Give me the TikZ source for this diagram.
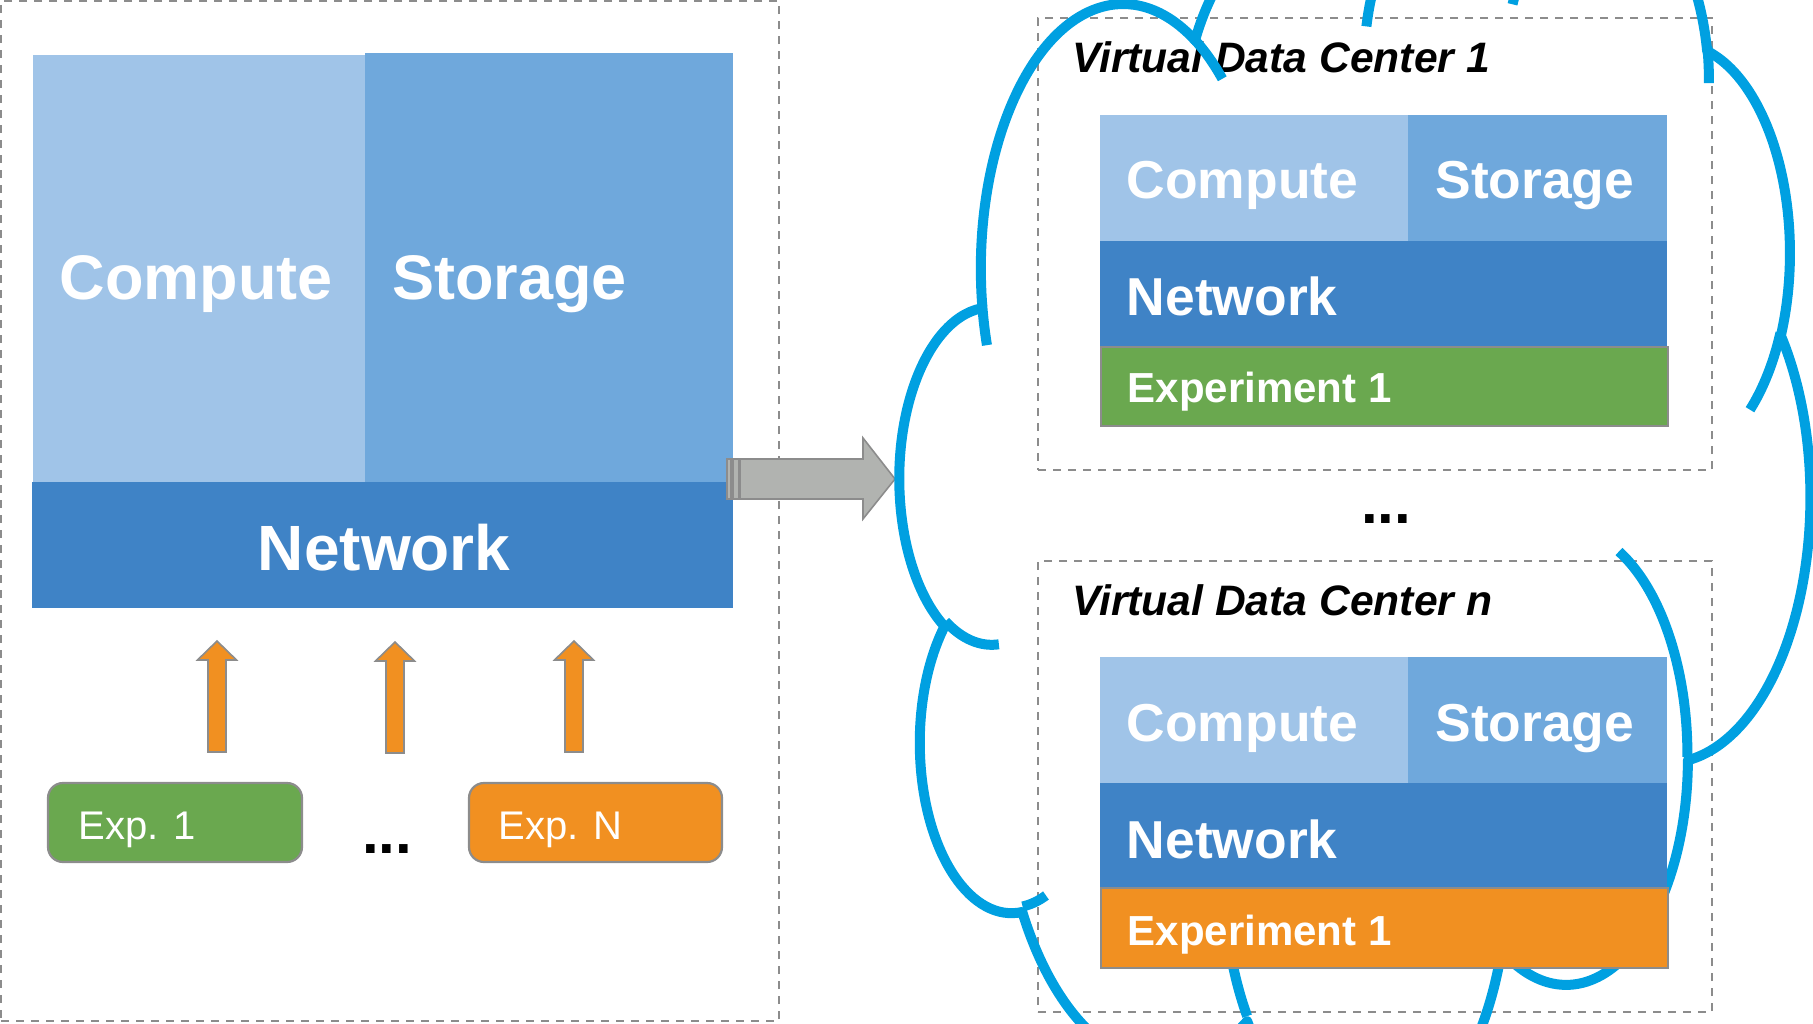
\documentclass[tikz,border=0pt]{standalone}
\usepackage{fontspec}
\setmainfont{Liberation Sans}
\usetikzlibrary{fit}
\definecolor{cmpC}{HTML}{A0C4E8}
\definecolor{stoC}{HTML}{6FA8DC}
\definecolor{netC}{HTML}{3F83C6}
\definecolor{grnC}{HTML}{6AA84F}
\definecolor{orgC}{HTML}{F19021}
\definecolor{cldC}{HTML}{00A0E1}
\definecolor{dshC}{HTML}{8C8C8C}
\definecolor{bdrC}{HTML}{8C8C8C}
\definecolor{gryC}{HTML}{B1B3B0}
\tikzset{
  blk/.style={inner sep=0pt, outer sep=0pt},
  dashbox/.style={blk, draw=dshC, line width=0.9pt, dash pattern=on 4pt off 3.5pt},
  bigw/.style={inner sep=0pt, anchor=base west, text=white, font=\fontsize{31.5}{36}\selectfont\bfseries},
  midw/.style={inner sep=0pt, anchor=base west, text=white, font=\fontsize{26.7}{31}\selectfont\bfseries},
  expw/.style={inner sep=0pt, anchor=base west, text=white, font=\fontsize{21}{25}\selectfont\bfseries},
  smlw/.style={inner sep=0pt, anchor=base west, text=white, font=\fontsize{20}{24}\selectfont},
  ttl/.style={inner sep=0pt, anchor=base west, text=black, font=\fontsize{21.3}{25}\selectfont\bfseries\itshape},
  dotsty/.style={inner sep=0pt, anchor=base, text=black, font=\fontsize{30}{34}\selectfont\bfseries},
  expbox/.style={blk, draw=bdrC, line width=1.1pt, rounded corners=7.5pt},
  cloudline/.style={draw=cldC, line width=5pt, line join=round},
  uparrow/.pic={\draw[fill=orgC, draw=bdrC, line width=0.8pt] (-9,111) -- (-9,19) -- (-19.5,19) -- (0,0) -- (19.5,19) -- (9,19) -- (9,111) -- cycle;}
}
\begin{document}
\begin{tikzpicture}[x=0.5pt,y=-0.5pt]
\useasboundingbox (0,0) rectangle (1813,1023);
% ---------- left panel ----------
\node[dashbox, fit={(1,1)(779,1021)}] (left) {};
\node[blk, fill=cmpC, fit={(33,55)(365,482)}] (LC) {};
\node[blk, fill=stoC, fit={(365,53)(733,482)}] (LS) {};
\node[blk, fill=netC, fit={(32,482)(733,608)}] (LN) {};
\node[bigw] (LCt) at (59.3,299) {Compute};
\node[bigw] (LSt) at (392,299) {Storage};
\node[bigw, font=\fontsize{32}{36}\selectfont\bfseries] (LNt) at (257.5,570) {Network};
\pic at (217,641) {uparrow};
\pic at (395,642) {uparrow};
\pic at (574,641) {uparrow};
\node[expbox, fill=grnC, fit={(48,783)(302,862)}] (E1) {};
\node[expbox, fill=orgC, fit={(469,783)(722,862)}] (EN) {};
\node[smlw] (E1t) at (78,839) {Exp. 1};
\node[smlw] (ENt) at (498,839) {Exp. N};
\node[dotsty] (ldots) at (387,853) {...};
% ---------- right dashed boxes ----------
\node[dashbox, fit={(1038,18)(1712,470)}] (V1) {};
\node[dashbox, fit={(1038,561)(1712,1012)}] (Vn) {};
\node[ttl] (V1t) at (1072,72) {Virtual Data Center 1};
\node[ttl] (Vnt) at (1072,615) {Virtual Data Center n};
% ---------- gray arrow ----------
\draw[fill=gryC, draw=bdrC, line width=0.7pt] (727,459) rectangle (731,499);
\draw[fill=gryC, draw=bdrC, line width=0.7pt] (733,459) rectangle (739,499);
\draw[fill=gryC, draw=bdrC, line width=0.8pt] (740,459) -- (863,459) -- (863,438) -- (895,479) -- (863,519) -- (863,499) -- (740,499) -- cycle;
% ---------- cloud ----------
\begin{scope}
\clip (0,0) rectangle (1813,1023);
\begin{scope}[shift={(900,-109.5)}, x=455pt, y=-622pt]
\draw[cloudline] (0.090278,0.332639)
  arc[start angle=172.255, delta angle=128.115, x radius=0.156319, y radius=0.212731]
  arc[start angle=-152.04, delta angle=106.58, x radius=0.123449, y radius=0.168218]
  arc[start angle=-153.50, delta angle=116.16, x radius=0.101042, y radius=0.137616]
  arc[start angle=-139.70, delta angle=129.49, x radius=0.112431, y radius=0.152662]
  arc[start angle=-74.77, delta angle=97.98, x radius=0.123449, y radius=0.168356]
  arc[start angle=-37.54, delta angle=119.40, x radius=0.156829, y radius=0.213426]
  arc[start angle=0.46, delta angle=121.51, x radius=0.133912, y radius=0.182106]
  arc[start angle=16.84, delta angle=129.38, x radius=0.156296, y radius=0.213310]
  arc[start angle=58.98, delta angle=91.20, x radius=0.178704, y radius=0.244051]
  arc[start angle=83.31, delta angle=139.78, x radius=0.100926, y radius=0.136991]
  arc[start angle=120.36, delta angle=143.75, x radius=0.100579, y radius=0.137616]
  -- cycle;
\draw[cloudline] (0.108634,0.605949) arc[start angle=85.546, delta angle=34.81, x radius=0.100579, y radius=0.137616];
\draw[cloudline] (0.160370,0.807847) arc[start angle=68.24, delta angle=15.07, x radius=0.100926, y radius=0.136991];
\draw[cloudline] (0.381435,0.904861) arc[start angle=146.22, delta angle=12.25, x radius=0.156296, y radius=0.213310];
\draw[cloudline] (0.667292,0.804421) arc[start angle=4.738, delta angle=12.10, x radius=0.156296, y radius=0.213310];
\draw[cloudline] (0.790023,0.531343) arc[start angle=-64.03, delta angle=64.49, x radius=0.133912, y radius=0.182106];
\draw[cloudline] (0.967546,0.355417) arc[start angle=23.21, delta angle=26.44, x radius=0.123449, y radius=0.168356];
\draw[cloudline] (0.887130,0.125602) arc[start angle=-10.21, delta angle=11.03, x radius=0.112431, y radius=0.152662];
\draw[cloudline] (0.673102,0.091481) arc[start angle=-156.29, delta angle=16.59, x radius=0.112431, y radius=0.152662];
\draw[cloudline] (0.512523,0.109259) arc[start angle=-167.72, delta angle=14.22, x radius=0.101042, y radius=0.137616];
\draw[cloudline] (0.324074,0.120185) arc[start angle=-59.63, delta angle=13.89, x radius=0.156319, y radius=0.212731];
\draw[cloudline] (0.095532,0.365486) arc[start angle=163.19, delta angle=9.07, x radius=0.156319, y radius=0.212731];
\end{scope}
\end{scope}
% ---------- VDC 1 ----------
\node[blk, fill=cmpC, fit={(1100,115)(1408,241)}] (C1) {};
\node[blk, fill=stoC, fit={(1408,115)(1667,241)}] (S1) {};
\node[blk, fill=netC, fit={(1100,241)(1667,347)}] (N1) {};
\node[blk, fill=grnC, draw=bdrC, line width=1pt, fit={(1101,347)(1668,426)}] (X1) {};
\node[midw] (C1t) at (1126.3,198) {Compute};
\node[midw] (S1t) at (1435,198) {Storage};
\node[midw] (N1t) at (1126.5,315) {Network};
\node[expw] (X1t) at (1127.3,402) {Experiment 1};
% ---------- VDC n ----------
\node[blk, fill=cmpC, fit={(1100,657)(1408,783)}] (Cn) {};
\node[blk, fill=stoC, fit={(1408,657)(1667,783)}] (Sn) {};
\node[blk, fill=netC, fit={(1100,783)(1667,888)}] (Nn) {};
\node[blk, fill=orgC, draw=bdrC, line width=1pt, fit={(1101,888)(1668,968)}] (Xn) {};
\node[midw] (Cnt) at (1126.3,741) {Compute};
\node[midw] (Snt) at (1435,741) {Storage};
\node[midw] (Nnt) at (1126.5,858) {Network};
\node[expw] (Xnt) at (1127.3,945) {Experiment 1};
\node[dotsty] (rdots) at (1386,523) {...};
\end{tikzpicture}
\end{document}
